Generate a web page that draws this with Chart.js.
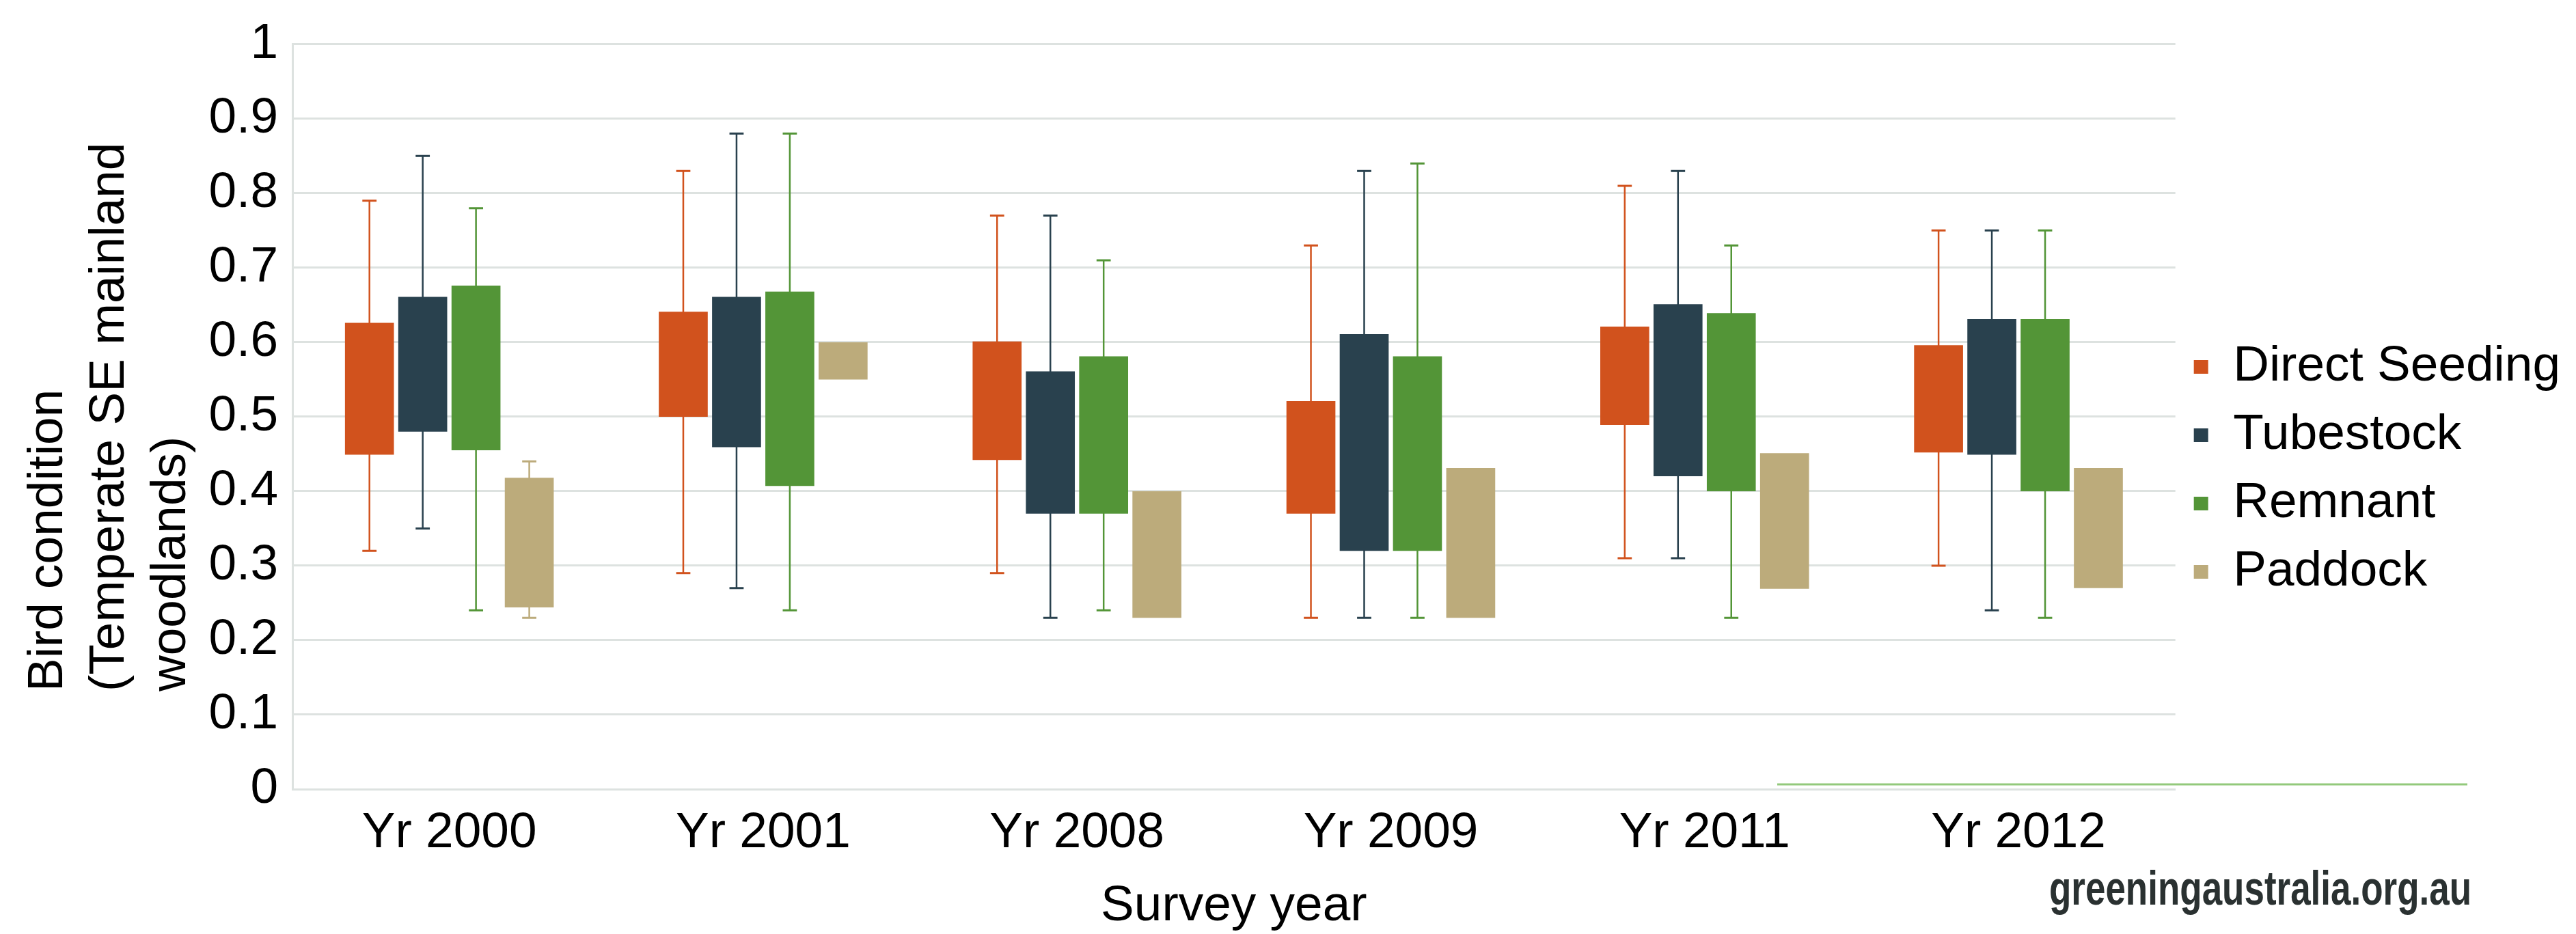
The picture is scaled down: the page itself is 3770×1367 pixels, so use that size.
<!DOCTYPE html>
<html>
<head>
<meta charset="utf-8">
<script src="https://cdn.jsdelivr.net/npm/chart.js@4.4.1/dist/chart.umd.min.js"></script>
<style>
  html, body { margin: 0; padding: 0; background: #fff; }
  #wrap { width: 3770px; height: 1367px; position: relative; }
</style>
</head>
<body>
<div id="wrap"><canvas id="birdChart"></canvas></div>
<script>
// ================= DATA =================
const years = ["Yr 2000", "Yr 2001", "Yr 2008", "Yr 2009", "Yr 2011", "Yr 2012"];
const seriesNames = ["Direct Seeding", "Tubestock", "Remnant", "Paddock"];
const seriesColors = ["#D1521D", "#29414E", "#539537", "#BCAB7B"];

// box = inter-quartile range, whisker = min / max
const seedingBoxLow   = [0.449, 0.50, 0.442, 0.37, 0.489, 0.452];
const seedingBoxHigh  = [0.626, 0.641, 0.601, 0.521, 0.621, 0.596];
const seedingMin      = [0.32, 0.29, 0.29, 0.23, 0.31, 0.30];
const seedingMax      = [0.79, 0.83, 0.77, 0.73, 0.81, 0.75];

const tubeBoxLow      = [0.48, 0.459, 0.37, 0.32, 0.42, 0.449];
const tubeBoxHigh     = [0.661, 0.661, 0.561, 0.611, 0.651, 0.631];
const tubeMin         = [0.35, 0.27, 0.23, 0.23, 0.31, 0.24];
const tubeMax         = [0.85, 0.88, 0.77, 0.83, 0.83, 0.75];

const remnantBoxLow   = [0.455, 0.407, 0.37, 0.32, 0.40, 0.40];
const remnantBoxHigh  = [0.676, 0.668, 0.581, 0.581, 0.639, 0.631];
const remnantMin      = [0.24, 0.24, 0.24, 0.23, 0.23, 0.23];
const remnantMax      = [0.78, 0.88, 0.71, 0.84, 0.73, 0.75];

const paddockBoxLow   = [0.244, 0.55, 0.23, 0.23, 0.269, 0.27];
const paddockBoxHigh  = [0.418, 0.60, 0.40, 0.431, 0.451, 0.431];
const paddockMin      = [0.23, null, null, null, null, null];
const paddockMax      = [0.44, null, null, null, null, null];

const yTickLabels = ["0", "0.1", "0.2", "0.3", "0.4", "0.5", "0.6", "0.7", "0.8", "0.9", "1"];
const yTitleLines = ["Bird condition", "(Temperate SE mainland", "woodlands)"];
const xTitle = "Survey year";
const siteText = "greeningaustralia.org.au";

// ================= HELPERS =================
const FONT = "'Liberation Sans', Arial, Helvetica, sans-serif";

function makeSeries(i, lows, highs, mins, maxs) {
  return {
    label: seriesNames[i],
    data: lows.map((lo, j) => [lo, highs[j]]),
    backgroundColor: seriesColors[i],
    borderWidth: 0,
    whiskerLow: mins,
    whiskerHigh: maxs
  };
}

// whiskers drawn under the boxes, using the bar elements and the y scale
const whiskerPlugin = {
  id: "whiskers",
  beforeDatasetsDraw(chart) {
    const ctx = chart.ctx;
    const yScale = chart.scales.y;
    chart.data.datasets.forEach((ds, i) => {
      const meta = chart.getDatasetMeta(i);
      meta.data.forEach((bar, j) => {
        const lo = ds.whiskerLow[j];
        const hi = ds.whiskerHigh[j];
        if (lo == null || hi == null) return;
        const yLo = yScale.getPixelForValue(lo);
        const yHi = yScale.getPixelForValue(hi);
        const cap = bar.width * 0.29;
        ctx.save();
        ctx.strokeStyle = ds.backgroundColor;
        ctx.lineWidth = 2.5;
        ctx.beginPath();
        ctx.moveTo(bar.x, yHi);
        ctx.lineTo(bar.x, yLo);
        ctx.stroke();
        ctx.lineWidth = 3;
        ctx.beginPath();
        ctx.moveTo(bar.x - cap / 2, yHi);
        ctx.lineTo(bar.x + cap / 2, yHi);
        ctx.moveTo(bar.x - cap / 2, yLo);
        ctx.lineTo(bar.x + cap / 2, yLo);
        ctx.stroke();
        ctx.restore();
      });
    });
  }
};

// rotated y title (left aligned lines), site name and green rule
const decorPlugin = {
  id: "decor",
  afterDraw(chart) {
    const ctx = chart.ctx;
    const area = chart.chartArea;
    ctx.save();
    ctx.fillStyle = "#000";
    ctx.font = "73px " + FONT;
    ctx.textAlign = "left";
    ctx.textBaseline = "alphabetic";
    const startY = area.bottom - 143;
    yTitleLines.forEach((line, i) => {
      ctx.save();
      ctx.translate(91 + i * 90, startY);
      ctx.rotate(-Math.PI / 2);
      ctx.fillText(line, 0, 0);
      ctx.restore();
    });

    ctx.strokeStyle = "#93C97C";
    ctx.lineWidth = 3;
    ctx.beginPath();
    ctx.moveTo(2601, area.bottom - 7);
    ctx.lineTo(3611, area.bottom - 7);
    ctx.stroke();

    ctx.fillStyle = "#2A3131";
    ctx.font = "bold 70px " + FONT;
    ctx.fillText(siteText, 2999, 1324, 618);
    ctx.restore();
  }
};

// ================= CHART =================
const ctx = document.getElementById("birdChart").getContext("2d");
window.birdChart = new Chart(ctx, {
  type: "bar",
  data: {
    labels: years,
    datasets: [
      makeSeries(0, seedingBoxLow, seedingBoxHigh, seedingMin, seedingMax),
      makeSeries(1, tubeBoxLow, tubeBoxHigh, tubeMin, tubeMax),
      makeSeries(2, remnantBoxLow, remnantBoxHigh, remnantMin, remnantMax),
      makeSeries(3, paddockBoxLow, paddockBoxHigh, paddockMin, paddockMax)
    ]
  },
  options: {
    responsive: true,
    maintainAspectRatio: false,
    animation: false,
    categoryPercentage: 0.679,
    barPercentage: 0.919,
    layout: { padding: { top: 7, right: 13, bottom: 0, left: 0 } },
    plugins: {
      tooltip: { enabled: false },
      title: { display: false },
      legend: {
        position: "right",
        labels: {
          color: "#000",
          font: { family: FONT, size: 73 },
          boxWidth: 21,
          boxHeight: 20,
          padding: 27
        }
      }
    },
    scales: {
      x: {
        grid: { display: false, drawTicks: false },
        border: { display: true, color: "#DDE2E0", width: 3 },
        ticks: { color: "#000", font: { family: FONT, size: 73 }, padding: 21 },
        title: {
          display: true,
          text: xTitle,
          color: "#000",
          font: { family: FONT, size: 73, lineHeight: 1 },
          padding: { top: 0, bottom: 4 }
        },
        afterFit(scale) { scale.height = 212; }
      },
      y: {
        min: 0,
        max: 1,
        ticks: {
          stepSize: 0.1,
          color: "#000",
          font: { family: FONT, size: 73 },
          padding: 21,
          callback: (value, index) => yTickLabels[index]
        },
        grid: { color: "#DDE2E0", lineWidth: 3, drawTicks: false },
        border: { display: true, color: "#DDE2E0", width: 3 },
        afterFit(scale) { scale.width = 428; }
      }
    }
  },
  plugins: [whiskerPlugin, decorPlugin]
});
</script>
</body>
</html>
